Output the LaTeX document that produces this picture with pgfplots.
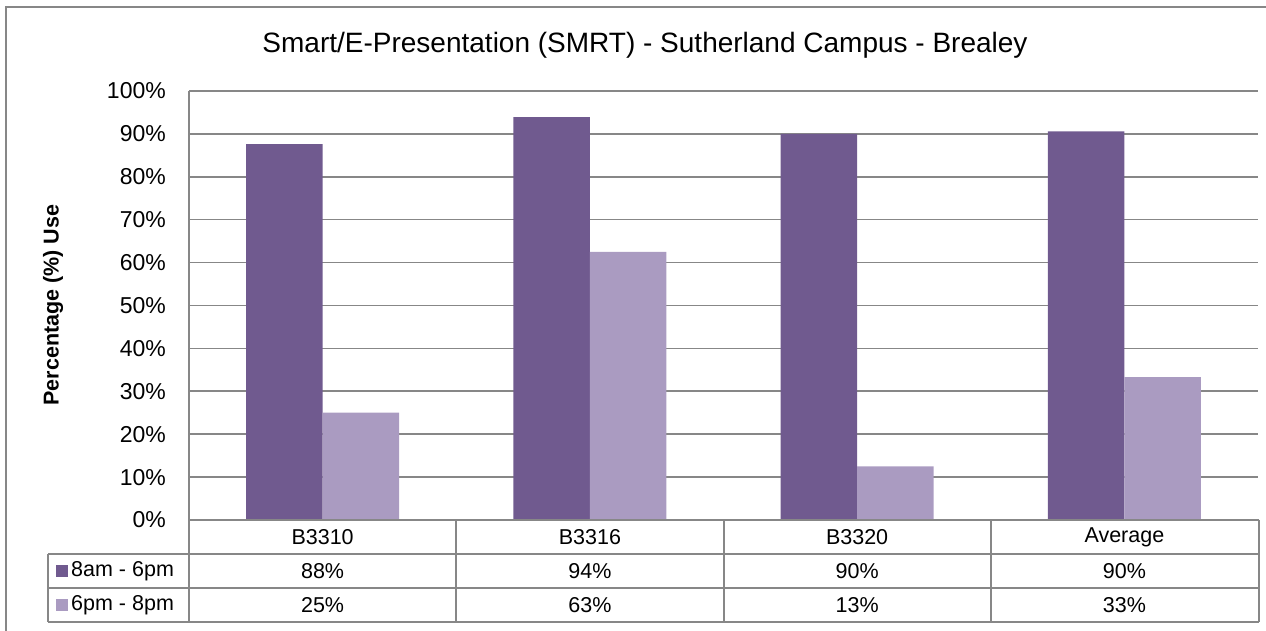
\documentclass[border=0pt]{standalone}
\usepackage{fontspec}
\setmainfont{Liberation Sans}
\usepackage{pgfplots}
\pgfplotsset{compat=1.18}
\definecolor{darkp}{HTML}{705A8F}
\definecolor{lightp}{HTML}{AA9BC1}
\definecolor{gridg}{HTML}{878787}
\begin{document}
\begin{tikzpicture}[x=1pt,y=1pt]
\path[use as bounding box] (0,0) rectangle (1266,631);
% outer border (left and top visible)
\draw[gridg, line width=1.5pt] (6,-20) -- (6,624) -- (1300,624);
% title
\node[font=\fontsize{28}{32}\selectfont, anchor=base] at (645,578) {Smart/E-Presentation (SMRT) - Sutherland Campus - Brealey};
\begin{axis}[
  at={(189pt,111pt)}, anchor=south west,
  scale only axis, width=1069pt, height=429pt,
  xmin=-0.5, xmax=3.5, ymin=0, ymax=100,
  ybar=0pt, bar width=76.5pt,
  xtick=\empty,
  ytick={0,10,...,100},
  /pgf/number format/assume math mode=true,
  yticklabel={\pgfmathprintnumber{\tick}\%},
  yticklabel style={font=\fontsize{23}{26}\selectfont, anchor=east, inner sep=0pt, xshift=-23pt},
  major tick length=0pt,
  ymajorgrids, grid style={gridg, line width=1.6pt},
  axis line style={draw=none},
  clip=false,
]
\addplot[fill=darkp, draw=none] coordinates {(0,87.6) (1,93.9) (2,90.0) (3,90.6)};
\addplot[fill=lightp, draw=none] coordinates {(0,25.0) (1,62.5) (2,12.5) (3,33.3)};
\end{axis}
% y axis label
\node[font=\bfseries\fontsize{21.5}{24}\selectfont, rotate=90] at (53,326) {Percentage (\%) Use};
% axis left line and data table
\begin{scope}[gridg, line width=1.6pt]
\draw (189,540) -- (189,9);
\draw (189,111) -- (1259,111);
\draw (48,77) -- (1259,77);
\draw (48,43) -- (1259,43);
\draw (48,9) -- (1259,9);
\draw (48,77) -- (48,9);
\foreach \xx in {456,724,991,1259} {\draw (\xx,111) -- (\xx,9);}
\end{scope}
\begin{scope}[font=\fontsize{21.5}{24}\selectfont]
\foreach \cx/\cat/\va/\vb in {322.6/B3310/88\%/25\%, 589.9/B3316/94\%/63\%, 857.1/B3320/90\%/13\%, 1124.4/Average/90\%/33\%} {
  \node at (\cx,94) {\cat};
  \node at (\cx,60) {\va};
  \node at (\cx,26) {\vb};
}
\fill[darkp] (56,54) rectangle (68,66);
\fill[lightp] (56,20) rectangle (68,32);
\node[anchor=west, inner sep=0pt] at (71,60) {8am - 6pm};
\node[anchor=west, inner sep=0pt] at (71,26) {6pm - 8pm};
\end{scope}
\end{tikzpicture}
\end{document}
